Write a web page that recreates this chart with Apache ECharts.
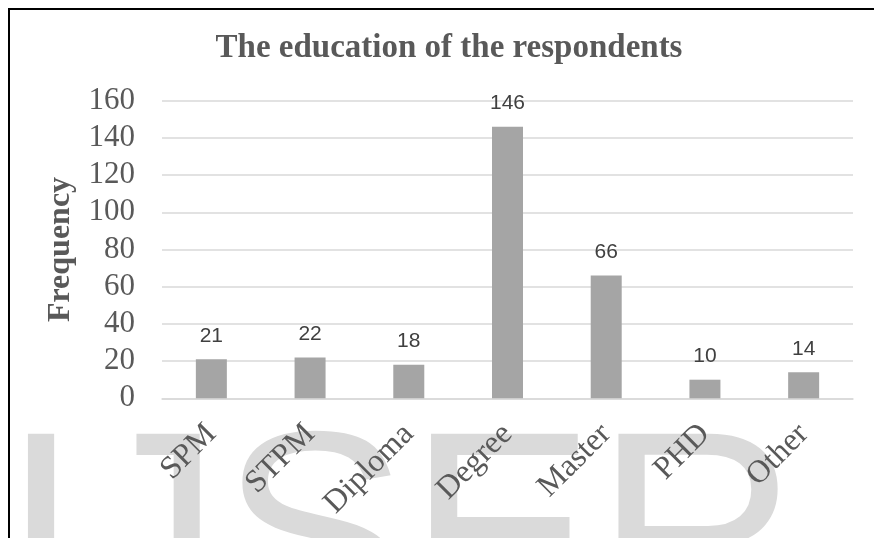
<!DOCTYPE html>
<html>
<head>
<meta charset="utf-8">
<script src="https://cdn.jsdelivr.net/npm/echarts@6/dist/echarts.min.js"></script>
<style>
  html, body { margin: 0; padding: 0; background: #fff; }
  #main { width: 874px; height: 538px; }
</style>
</head>
<body>
<div id="main"></div>
<script>
// education levels and counts
var categories = ['SPM', 'STPM', 'Diploma', 'Degree', 'Master', 'PHD', 'Other'];
var frequency = [21, 22, 18, 146, 66, 10, 14];
var yTicks = [0, 20, 40, 60, 80, 100, 120, 140, 160];

var chart = echarts.init(document.getElementById('main'));

var option = {
    backgroundColor: '#fff',
    animation: false,
    title: {
        text: 'The education of the respondents',
        left: 444,
        top: 27,
        textAlign: 'center',
        textStyle: {
            fontFamily: 'Liberation Serif',
            fontWeight: 'bold',
            fontSize: 33,
            color: '#595959'
        }
    },
    // watermark + outer frame
    graphic: [
        {
            type: 'text',
            z: -10,
            left: 2,
            top: 409,
            silent: true,
            style: {
                text: 'IJSER',
                font: '281px "Liberation Sans"',
                fill: '#dadada'
            }
        },
        {
            type: 'rect',
            silent: true,
            shape: { x: 9, y: 9, width: 880, height: 600 },
            style: { fill: 'none', stroke: '#000', lineWidth: 2 }
        }
    ],
    grid: {
        left: 162,
        right: 21,
        top: 100.7,
        bottom: 139.7
    },
    xAxis: {
        type: 'category',
        data: categories,
        axisLine: { lineStyle: { color: '#d9d9d9', width: 1.5 } },
        axisTick: { show: false },
        axisLabel: {
            rotate: 45,
            margin: 31,
            interval: 0,
            fontFamily: 'Liberation Serif',
            fontSize: 32,
            color: '#595959'
        }
    },
    yAxis: {
        type: 'value',
        min: yTicks[0],
        max: yTicks[yTicks.length - 1],
        interval: yTicks[1] - yTicks[0],
        name: 'Frequency',
        nameLocation: 'middle',
        nameGap: 85,
        nameTextStyle: {
            fontFamily: 'Liberation Serif',
            fontWeight: 'bold',
            fontSize: 32,
            color: '#595959'
        },
        axisLine: { show: false },
        axisTick: { show: false },
        axisLabel: {
            margin: 27,
            fontFamily: 'Liberation Serif',
            fontSize: 31,
            color: '#595959'
        },
        splitLine: { lineStyle: { color: '#d9d9d9', width: 1.5 } }
    },
    series: [{
        type: 'bar',
        data: frequency,
        barWidth: 31,
        itemStyle: { color: '#a5a5a5' },
        label: {
            show: true,
            position: 'top',
            distance: 13,
            fontFamily: 'Liberation Sans',
            fontSize: 21,
            color: '#404040'
        }
    }]
};

chart.setOption(option);
</script>
</body>
</html>
